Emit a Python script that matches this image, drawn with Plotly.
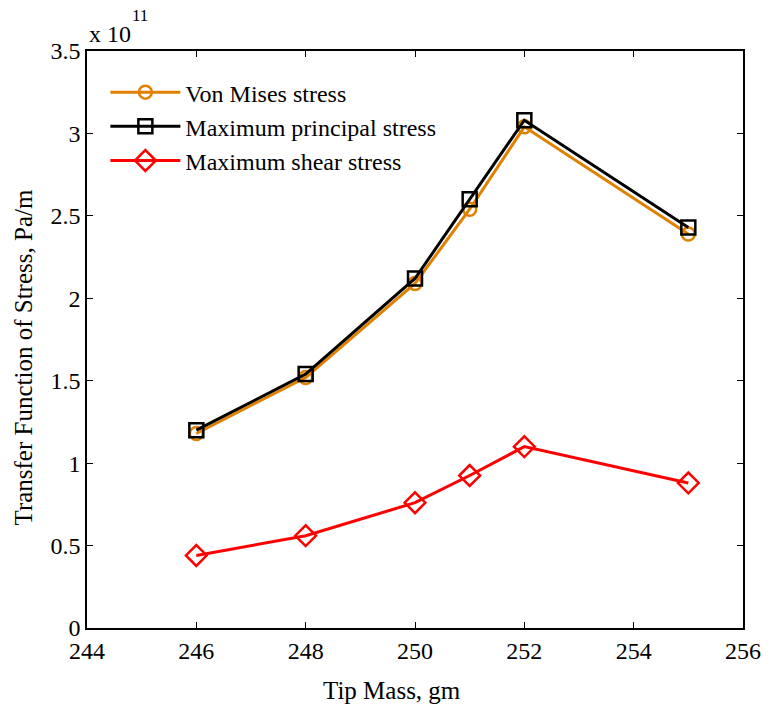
import plotly.graph_objects as go

tip_mass = [246, 248, 250, 251, 252, 255]
von_mises = [1.18, 1.52, 2.09, 2.54, 3.04, 2.39]          # x 10^11 Pa/m
max_principal = [1.20, 1.54, 2.12, 2.60, 3.08, 2.43]      # x 10^11 Pa/m
max_shear = [0.44, 0.56, 0.76, 0.925, 1.10, 0.88]         # x 10^11 Pa/m

x_ticks = [244, 246, 248, 250, 252, 254, 256]
y_ticks = [0, 0.5, 1, 1.5, 2, 2.5, 3, 3.5]
y_tick_text = ["0", "0.5", "1", "1.5", "2", "2.5", "3", "3.5"]

FONT = "Liberation Serif, Times New Roman, serif"

fig = go.Figure()
fig.add_trace(go.Scatter(
    x=tip_mass, y=von_mises, mode="lines+markers", name="Von Mises stress",
    line=dict(color="#E08000", width=3),
    marker=dict(symbol="circle-open", size=13, color="#E08000", line=dict(width=2.5)),
))
fig.add_trace(go.Scatter(
    x=tip_mass, y=max_principal, mode="lines+markers", name="Maximum principal stress",
    line=dict(color="black", width=3),
    marker=dict(symbol="square-open", size=14, color="black", line=dict(width=2.5)),
))
fig.add_trace(go.Scatter(
    x=tip_mass, y=max_shear, mode="lines+markers", name="Maximum shear stress",
    line=dict(color="red", width=3),
    marker=dict(symbol="diamond-open", size=16, color="red", line=dict(width=2.5)),
))

axis_common = dict(
    showgrid=False, zeroline=False, showline=True, linecolor="black", linewidth=1.5,
    mirror="ticks", ticks="inside", ticklen=6, tickwidth=1, tickcolor="black",
    tickfont=dict(family=FONT, size=24, color="black"),
)

fig.update_layout(
    width=773, height=709,
    margin=dict(l=87, r=24, t=51, b=81),
    paper_bgcolor="white", plot_bgcolor="white",
    font=dict(family=FONT, color="black"),
    showlegend=True,
    legend=dict(
        x=0.028, y=0.967, xanchor="left", yanchor="top",
        bgcolor="rgba(255,255,255,0)", borderwidth=0,
        font=dict(family=FONT, size=24, color="black"),
        itemwidth=70, tracegroupgap=0,
    ),
    xaxis=dict(range=[244, 256], tickvals=x_ticks, **axis_common),
    yaxis=dict(range=[0, 3.5], tickvals=y_ticks, ticktext=y_tick_text, **axis_common),
    annotations=[
        dict(text="x 10", xref="paper", yref="paper", x=0.0, y=1.0,
             xanchor="left", yanchor="bottom", showarrow=False,
             font=dict(family=FONT, size=24, color="black"), yshift=2),
        dict(text="11", xref="paper", yref="paper", x=0.066, y=1.0,
             xanchor="left", yanchor="bottom", showarrow=False,
             font=dict(family=FONT, size=17, color="black"), yshift=24),
        dict(text="Tip Mass, gm", xref="paper", yref="paper", x=0.5, y=0.0,
             xanchor="center", yanchor="middle", showarrow=False,
             font=dict(family=FONT, size=25, color="black"), xshift=-23, yshift=-62),
        dict(text="Transfer Function of Stress, Pa/m", xref="paper", yref="paper", x=0.0, y=0.5,
             xanchor="center", yanchor="middle", showarrow=False, textangle=-90,
             font=dict(family=FONT, size=25, color="black"), xshift=-64, yshift=-18),
    ],
)

fig.write_html("out.html")
